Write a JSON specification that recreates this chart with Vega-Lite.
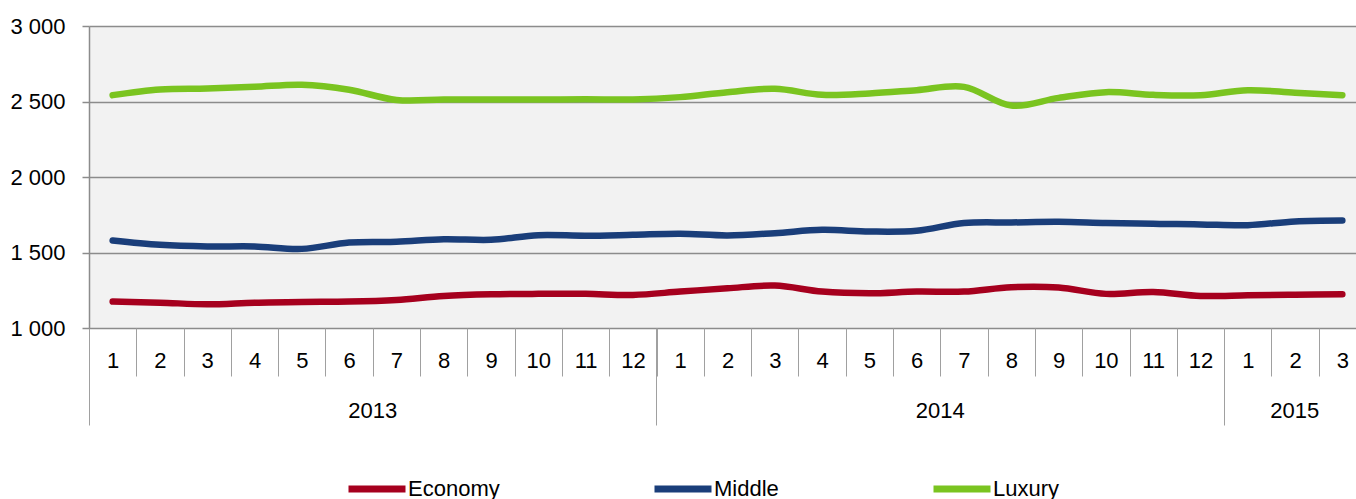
{
  "$schema": "https://vega.github.io/schema/vega-lite/v6.json",
  "autosize": {"type": "none"},
  "padding": {"left": 89, "top": 26, "right": -10, "bottom": 171},
  "width": 1277,
  "height": 302,
  "config": {
    "font": "Liberation Sans",
    "view": {"fill": "#F2F2F2", "stroke": null},
    "axis": {"labelFont": "Liberation Sans", "labelColor": "#000000", "labelFontSize": 22, "title": null},
    "legend": {"labelFont": "Liberation Sans"}
  },
  "data": {
    "values": [
      {"idx": 1, "cat": "Economy", "v": 1175}, {"idx": 2, "cat": "Economy", "v": 1168}, {"idx": 3, "cat": "Economy", "v": 1157},
      {"idx": 4, "cat": "Economy", "v": 1168}, {"idx": 5, "cat": "Economy", "v": 1173}, {"idx": 6, "cat": "Economy", "v": 1175},
      {"idx": 7, "cat": "Economy", "v": 1186}, {"idx": 8, "cat": "Economy", "v": 1212}, {"idx": 9, "cat": "Economy", "v": 1223},
      {"idx": 10, "cat": "Economy", "v": 1226}, {"idx": 11, "cat": "Economy", "v": 1226}, {"idx": 12, "cat": "Economy", "v": 1219},
      {"idx": 13, "cat": "Economy", "v": 1241}, {"idx": 14, "cat": "Economy", "v": 1263}, {"idx": 15, "cat": "Economy", "v": 1281},
      {"idx": 16, "cat": "Economy", "v": 1241}, {"idx": 17, "cat": "Economy", "v": 1230}, {"idx": 18, "cat": "Economy", "v": 1241},
      {"idx": 19, "cat": "Economy", "v": 1241}, {"idx": 20, "cat": "Economy", "v": 1270}, {"idx": 21, "cat": "Economy", "v": 1268},
      {"idx": 22, "cat": "Economy", "v": 1226}, {"idx": 23, "cat": "Economy", "v": 1239}, {"idx": 24, "cat": "Economy", "v": 1212},
      {"idx": 25, "cat": "Economy", "v": 1217}, {"idx": 26, "cat": "Economy", "v": 1221}, {"idx": 27, "cat": "Economy", "v": 1223},

      {"idx": 1, "cat": "Middle", "v": 1580}, {"idx": 2, "cat": "Middle", "v": 1551}, {"idx": 3, "cat": "Middle", "v": 1540},
      {"idx": 4, "cat": "Middle", "v": 1540}, {"idx": 5, "cat": "Middle", "v": 1524}, {"idx": 6, "cat": "Middle", "v": 1566},
      {"idx": 7, "cat": "Middle", "v": 1571}, {"idx": 8, "cat": "Middle", "v": 1588}, {"idx": 9, "cat": "Middle", "v": 1584},
      {"idx": 10, "cat": "Middle", "v": 1615}, {"idx": 11, "cat": "Middle", "v": 1611}, {"idx": 12, "cat": "Middle", "v": 1617},
      {"idx": 13, "cat": "Middle", "v": 1624}, {"idx": 14, "cat": "Middle", "v": 1613}, {"idx": 15, "cat": "Middle", "v": 1628},
      {"idx": 16, "cat": "Middle", "v": 1650}, {"idx": 17, "cat": "Middle", "v": 1639}, {"idx": 18, "cat": "Middle", "v": 1644},
      {"idx": 19, "cat": "Middle", "v": 1695}, {"idx": 20, "cat": "Middle", "v": 1699}, {"idx": 21, "cat": "Middle", "v": 1703},
      {"idx": 22, "cat": "Middle", "v": 1695}, {"idx": 23, "cat": "Middle", "v": 1690}, {"idx": 24, "cat": "Middle", "v": 1686},
      {"idx": 25, "cat": "Middle", "v": 1681}, {"idx": 26, "cat": "Middle", "v": 1706}, {"idx": 27, "cat": "Middle", "v": 1712},

      {"idx": 1, "cat": "Luxury", "v": 2542}, {"idx": 2, "cat": "Luxury", "v": 2580}, {"idx": 3, "cat": "Luxury", "v": 2586},
      {"idx": 4, "cat": "Luxury", "v": 2597}, {"idx": 5, "cat": "Luxury", "v": 2611}, {"idx": 6, "cat": "Luxury", "v": 2578},
      {"idx": 7, "cat": "Luxury", "v": 2510}, {"idx": 8, "cat": "Luxury", "v": 2513}, {"idx": 9, "cat": "Luxury", "v": 2513},
      {"idx": 10, "cat": "Luxury", "v": 2513}, {"idx": 11, "cat": "Luxury", "v": 2515}, {"idx": 12, "cat": "Luxury", "v": 2513},
      {"idx": 13, "cat": "Luxury", "v": 2529}, {"idx": 14, "cat": "Luxury", "v": 2562}, {"idx": 15, "cat": "Luxury", "v": 2584},
      {"idx": 16, "cat": "Luxury", "v": 2544}, {"idx": 17, "cat": "Luxury", "v": 2553}, {"idx": 18, "cat": "Luxury", "v": 2575},
      {"idx": 19, "cat": "Luxury", "v": 2597}, {"idx": 20, "cat": "Luxury", "v": 2473}, {"idx": 21, "cat": "Luxury", "v": 2524},
      {"idx": 22, "cat": "Luxury", "v": 2562}, {"idx": 23, "cat": "Luxury", "v": 2544}, {"idx": 24, "cat": "Luxury", "v": 2542},
      {"idx": 25, "cat": "Luxury", "v": 2575}, {"idx": 26, "cat": "Luxury", "v": 2558}, {"idx": 27, "cat": "Luxury", "v": 2542}
    ]
  },
  "layer": [
    {
      "mark": {"type": "line", "interpolate": "catmull-rom", "strokeWidth": 6.5, "strokeCap": "round", "strokeJoin": "round"},
      "encoding": {
        "x": {
          "field": "idx", "type": "ordinal", "bandPosition": 0.5,
          "scale": {"type": "band", "paddingInner": 0, "paddingOuter": 0},
          "axis": {
            "orient": "bottom",
            "labelExpr": "isValid(datum.value) && datum.value > 0 ? toString(((datum.value - 1) % 12) + 1) : ''",
            "labelAngle": 0, "labelOverlap": false,
            "tickBand": "extent", "tickSize": 48, "tickColor": "#A0A0A0", "tickWidth": 1,
            "domain": false, "grid": false,
            "labelBaseline": "middle", "labelPadding": -16
          }
        },
        "y": {
          "field": "v", "type": "quantitative",
          "scale": {"domain": [1000, 3000], "nice": false, "zero": false},
          "axis": {
            "values": [1000, 1500, 2000, 2500, 3000],
            "labelExpr": "replace(format(datum.value, ','), ',', ' ')",
            "tickSize": 7, "tickColor": "#8C8C8C", "tickWidth": 1.5,
            "domainColor": "#8C8C8C", "domainWidth": 1.5,
            "grid": true, "gridColor": "#8C8C8C", "gridWidth": 1.5,
            "labelPadding": 17
          }
        },
        "color": {
          "field": "cat", "type": "nominal",
          "scale": {"domain": ["Economy", "Middle", "Luxury"], "range": ["#A6001E", "#1A3E7A", "#7AC420"]},
          "legend": {
            "title": null, "orient": "none", "legendX": 256, "legendY": 431,
            "direction": "horizontal", "symbolType": "stroke", "symbolStrokeWidth": 7,
            "symbolSize": 3249, "labelFontSize": 22, "labelColor": "#000000",
            "columnPadding": 140, "gridAlign": "none", "labelOffset": -1, "padding": 0
          }
        }
      }
    },
    {
      "mark": {"type": "point", "opacity": 0},
      "encoding": {
        "x": {
          "field": "idx", "type": "ordinal",
          "scale": {"type": "band", "paddingInner": 0, "paddingOuter": 0},
          "axis": {
            "orient": "bottom",
            "values": [1, 13, 25], "bandPosition": 0,
            "labelExpr": "datum.value == 1 ? '2013' : datum.value == 13 ? '2014' : '2015'",
            "labelAngle": 0, "labelOverlap": false,
            "labelOffset": {"condition": {"test": "datum.value == 25", "value": 47}, "value": 260},
            "tickSize": 97, "tickColor": "#A0A0A0", "tickWidth": 1,
            "domain": false, "grid": false,
            "labelBaseline": "middle", "labelPadding": -15
          }
        }
      }
    }
  ],
  "resolve": {"axis": {"x": "independent"}}
}
